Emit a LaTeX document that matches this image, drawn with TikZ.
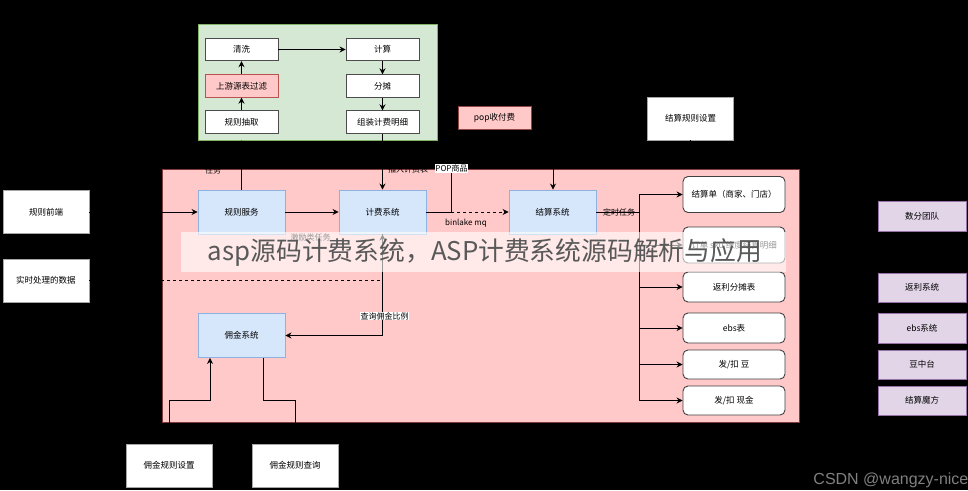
\documentclass[tikz,border=0pt]{standalone}
\usepackage{fontspec}
\setmainfont{Noto Sans CJK SC}
\newfontfamily\markfont{Liberation Sans}
\usetikzlibrary{arrows.meta}
\definecolor{greenfill}{HTML}{D5E8D4}
\definecolor{greenline}{HTML}{82B366}
\definecolor{redfill}{HTML}{FFC9C9}
\definecolor{redline}{HTML}{B85450}
\definecolor{bluefill}{HTML}{D6E7FC}
\definecolor{blueline}{HTML}{8DB2E2}
\definecolor{purplefill}{HTML}{E1D5E7}
\definecolor{purpleline}{HTML}{9673A6}
\tikzset{every path/.style={line width=0.9pt}}
\tikzset{every node/.style={font=\fontsize{8.5}{10}\selectfont,text=black,inner sep=0pt}}
\tikzset{plainbox/.style={draw=black!70,fill=white,minimum width=73pt,minimum height=22.5pt}}
\tikzset{outerbox/.style={draw=black!35,fill=white,minimum width=86pt,minimum height=43pt}}
\tikzset{servicebox/.style={draw=blueline,fill=bluefill,minimum width=87pt,minimum height=44pt}}
\tikzset{tablebox/.style={draw=black!75,fill=white,rounded corners=5pt,minimum width=102pt}}
\tikzset{teambox/.style={draw=purpleline,fill=purplefill,minimum width=88pt}}
\tikzset{arr/.style={-{Stealth[length=6pt,width=6pt]},draw=black}}
\tikzset{lbl/.style={font=\fontsize{8}{10}\selectfont}}
\begin{document}
\begin{tikzpicture}[x=1pt,y=-1pt]
\fill[black] (0,0) rectangle (968,490);
\useasboundingbox (0,0) rectangle (968,490);
% panels
\node[draw=greenline,fill=greenfill,minimum width=239pt,minimum height=116pt] (green) at (317.5,82) {};
\node[draw=redline!70!black,fill=redfill,minimum width=637pt,minimum height=253pt] (pink) at (480.5,295.5) {};
% green panel
\node[plainbox] (clean) at (241.5,49.5) {清洗};
\node[plainbox,draw=redline,fill=redfill] (filter) at (241.5,86) {上游源表过滤};
\node[plainbox] (extract) at (241.5,122) {规则抽取};
\node[plainbox] (calc) at (382.5,49.5) {计算};
\node[plainbox] (split) at (382.5,86) {分摊};
\node[plainbox] (compose) at (382.5,122) {组装计费明细};
\draw[arr] (extract) -- (filter);
\draw[arr] (filter) -- (clean);
\draw[arr] (clean) -- (calc);
\draw[arr] (calc) -- (split);
\draw[arr] (split) -- (compose);
% top boxes
\node[plainbox,draw=redline!80!black,fill=redfill] (pop) at (494.5,118) {pop收付费};
\node[outerbox] (ruleset) at (690.5,118.5) {结算规则设置};
% left boxes
\node[outerbox] (front) at (46,212) {规则前端};
\node[outerbox] (realtime) at (46,280.5) {实时处理的数据};
% services
\node[servicebox] (guize) at (241.5,212) {规则服务};
\node[servicebox] (jifei) at (382.5,212) {计费系统};
\node[servicebox] (jiesuan) at (552.5,212) {结算系统};
\node[servicebox] (yongjin) at (241.5,335.5) {佣金系统};
% bottom boxes
\node[outerbox] (setrule) at (169,465.5) {佣金规则设置};
\node[outerbox] (queryrule) at (295,465.5) {佣金规则查询};
% result tables
\node[tablebox,minimum height=36pt] (bill) at (734,194.5) {结算单（商家、门店）};
\node[tablebox,minimum height=36pt] (sku) at (734,245) {订单 sku 维度结算明细};
\node[tablebox,minimum height=30pt] (rebate) at (734,287) {返利分摊表};
\node[tablebox,minimum height=30pt] (ebs) at (734,328) {ebs表};
\node[tablebox,minimum height=29pt] (bean) at (734,364.5) {发/扣 豆};
\node[tablebox,minimum height=29pt] (cash) at (734,400.5) {发/扣 现金};
% teams
\node[teambox,minimum height=30pt] (team) at (922,216) {数分团队};
\node[teambox,minimum height=29pt] (fanli) at (922,287.5) {返利系统};
\node[teambox,minimum height=30pt] (ebssys) at (922,328) {ebs系统};
\node[teambox,minimum height=29pt] (douzt) at (922,364.5) {豆中台};
\node[teambox,minimum height=29pt] (cube) at (922,400.5) {结算魔方};
% turning points
\coordinate (popturn) at (451,150);
\coordinate (popdown) at (451,212);
\coordinate (jsturn) at (553,155);
\coordinate (branch) at (639,212);
\coordinate (setturn) at (210,400);
\coordinate (queryout) at (263,358);
\coordinate (queryturn) at (295,400);
% connectors
\draw[arr] (front) -- (guize);
\draw[arr] (guize) -- (jifei);
\draw[arr] (guize.north) -- (guize.north |- green.south);
\draw[arr] (compose) -- (jifei);
\draw (jifei) -- (popdown);
\draw (pop.south) |- (popturn) -- (popdown);
\draw[arr,dashed] (popdown) -- (jiesuan);
\draw[arr] (ruleset.south) |- (jsturn) -- (jsturn |- jiesuan.north);
\draw[arr,dashed] (realtime.east) -| (jifei.south);
\draw[arr] (jifei.south) |- (yongjin.east);
\draw[arr] (setrule.north) |- (setturn) -- (setturn |- yongjin.south);
\draw[arr] (queryout) |- (queryturn) -- (queryrule.north);
\draw (jiesuan) -- (branch);
\foreach \target in {bill,sku,rebate,ebs,bean,cash}
  \draw[arr] (branch) |- (\target.west);
% labels
\node[lbl] (tasklbl) at (213,170.5) {任务};
\node[lbl] (insertlbl) at (408,169.5) {插入计费表};
\node[lbl,fill=white,inner sep=0.7pt] (poplbl) at (451.5,168.5) {POP商品};
\node[lbl] (mqlbl) at (466,223) {binlake mq};
\node[lbl] (timerlbl) at (619,212) {定时任务};
\node[lbl] (rewardlbl) at (310.5,237) {激励类任务};
\node[lbl,fill=white,inner sep=0.7pt] (ratiolbl) at (384.5,316) {查询佣金比例};
% title band
\node[fill=white,fill opacity=0.6,minimum width=605pt,minimum height=40pt] (band) at (483.5,252) {};
\node[font=\fontsize{25.8}{28}\selectfont,text=black!65] (title) at (485,253) {asp源码计费系统，ASP计费系统源码解析与应用};
\node[font=\markfont\fontsize{16}{18}\selectfont,text=black!50,anchor=west] (mark) at (813,480) {CSDN @wangzy-nice};
\end{tikzpicture}
\end{document}
